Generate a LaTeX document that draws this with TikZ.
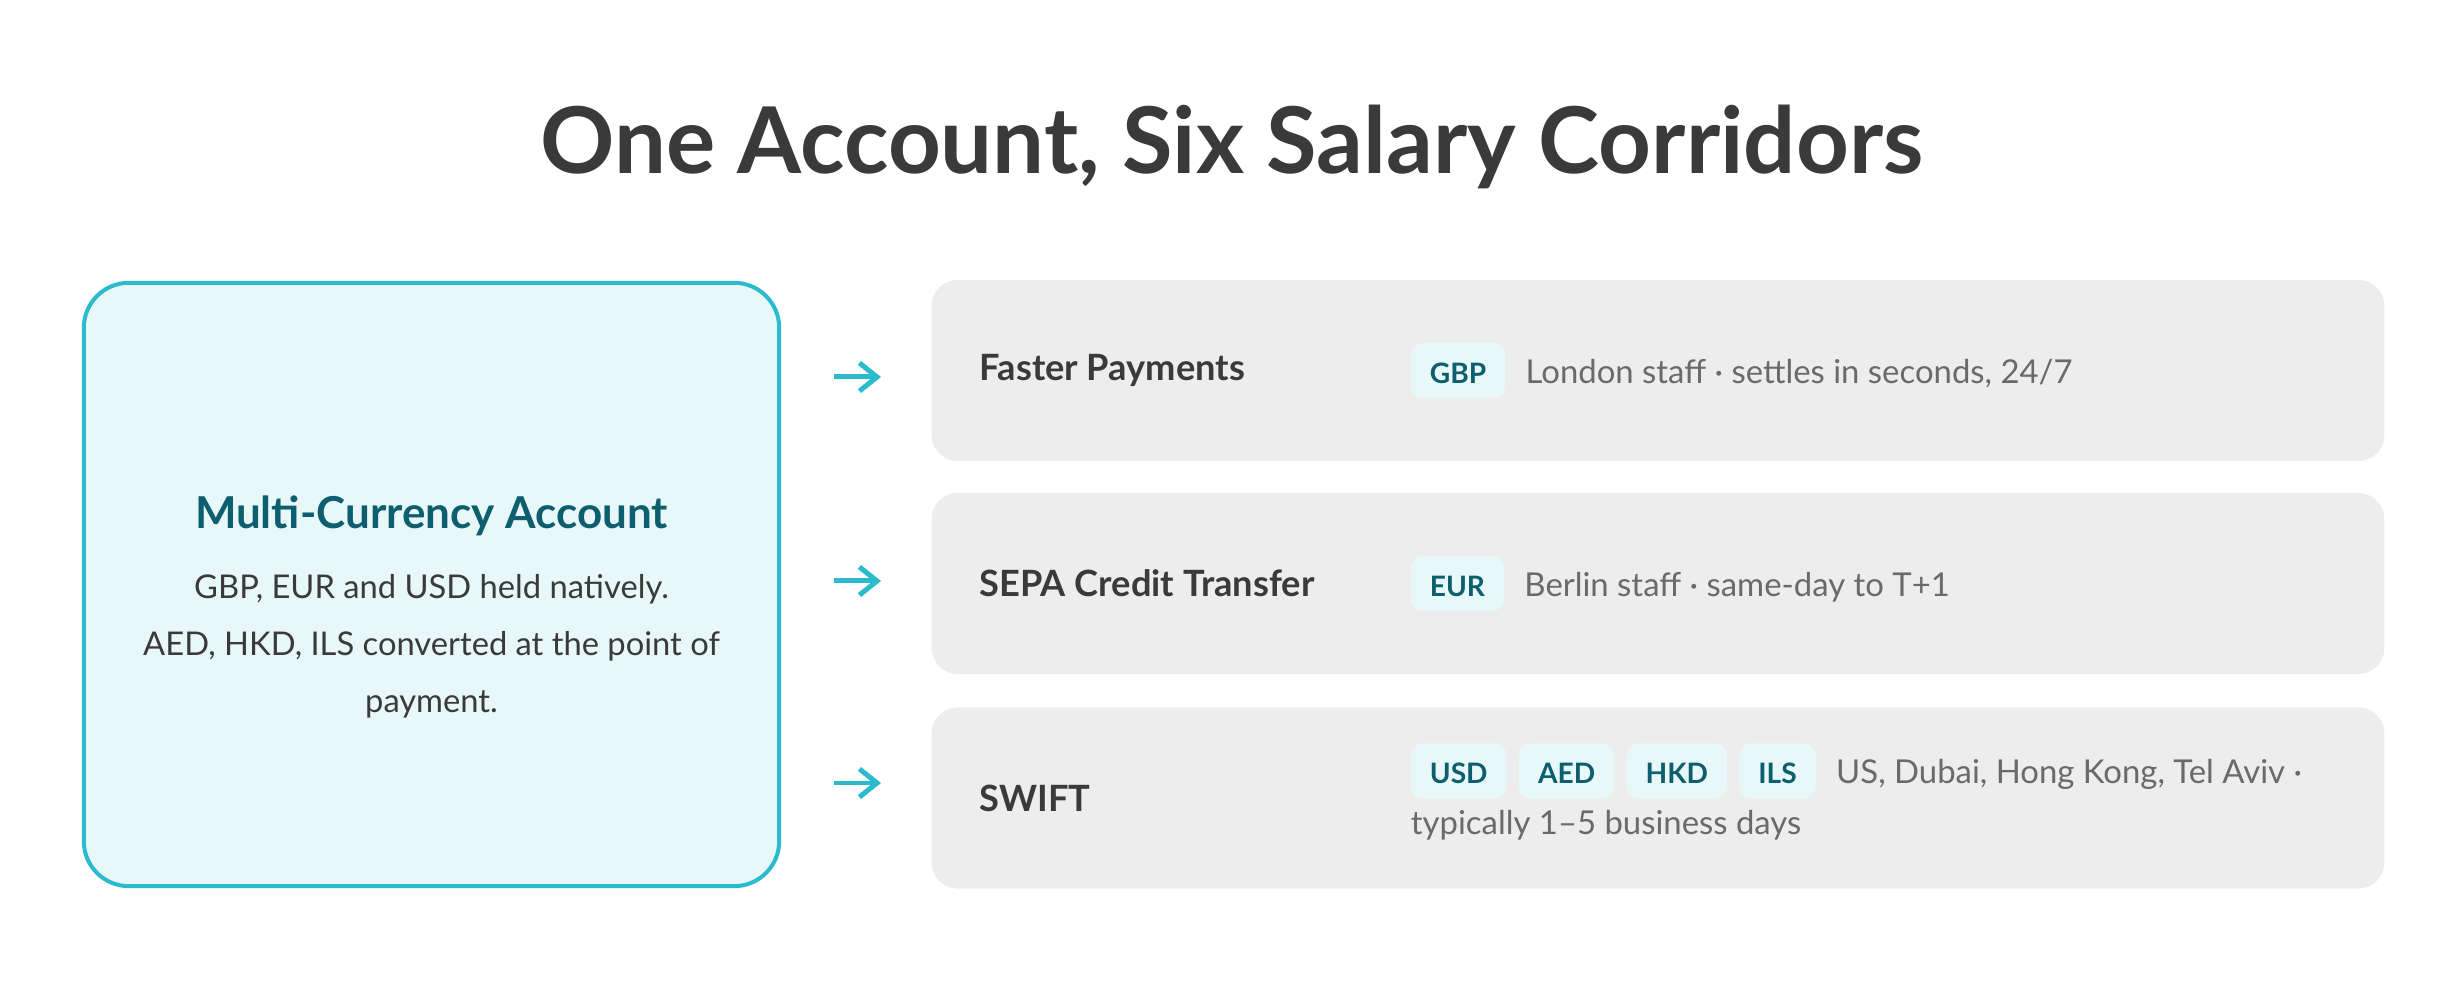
\documentclass[tikz,border=0pt]{standalone}
\usepackage{fontspec}
\setmainfont{Lato}
\usetikzlibrary{positioning, arrows.meta}
\definecolor{accentTeal}{RGB}{43,187,204}
\definecolor{deepTeal}{RGB}{13,94,110}
\definecolor{paleTeal}{RGB}{232,248,249}
\definecolor{rowGrey}{RGB}{237,237,237}
\definecolor{inkDark}{RGB}{58,58,58}
\definecolor{inkGrey}{RGB}{106,106,106}
\tikzstyle{canvas} = [x = 0.01cm, y = -0.01cm]
\tikzstyle{titleText} = [font=\bfseries\fontsize{26.2pt}{31pt}\selectfont, text=inkDark, anchor=base, inner sep=0]
\tikzstyle{accountBox} = [draw=accentTeal, fill=paleTeal, line width=1.14pt, rounded corners=0.45cm, minimum width=6.95cm, minimum height=6.03cm]
\tikzstyle{accountHead} = [font=\bfseries\fontsize{12.5pt}{15pt}\selectfont, text=deepTeal, anchor=base, inner sep=0]
\tikzstyle{accountBody} = [font=\fontsize{9.3pt}{16.2pt}\selectfont, text=inkDark, align=center, anchor=north, inner sep=0]
\tikzstyle{corridorBox} = [fill=rowGrey, rounded corners=0.26cm, minimum width=14.52cm, minimum height=1.81cm]
\tikzstyle{corridorName} = [font=\bfseries\fontsize{10.3pt}{12pt}\selectfont, text=inkDark, inner sep=0]
\tikzstyle{currencyBadge} = [fill=paleTeal, rounded corners=0.12cm, font=\bfseries\fontsize{8pt}{10pt}\selectfont, text=deepTeal, minimum height=0.55cm, inner xsep=0.19cm, inner ysep=0, text height=0.72em, text depth=0pt]
\tikzstyle{corridorNote} = [font=\fontsize{9.35pt}{12pt}\selectfont, text=inkGrey, inner sep=0]
\tikzstyle{flowArrow} = [draw=accentTeal, line width=1.42pt, -{Straight Barb[length=5pt, width=8pt]}]
\newcommand{\corridor}[3]{
  \node [corridorBox] (#1) at (1658, #2) {};
  \node [corridorName, right=0.48cm of #1.west] (#1Name) {#3};
}
\newcommand{\pointer}[2]{
  \coordinate (#1Start) at (834, #2);
  \coordinate (#1End) at (881, #2);
  \draw [flowArrow] (#1Start) -- (#1End);
}

\begin{document}
\begin{tikzpicture}[canvas]
  \useasboundingbox (0,0) rectangle (2464,995);
  \node [titleText] (title) at (1232, 174) {One Account, Six Salary Corridors};

  \node [accountBox] (account) at (431.5, 584.5) {};
  \node [accountHead] (accountTitle) at (431.5, 529) {Multi-Currency Account};
  \node [accountBody] (accountText) at (431.5, 574) {GBP, EUR and USD held natively.\\AED, HKD, ILS converted at the point of\\payment.};

  \pointer{fast}{377}
  \pointer{sepa}{581}
  \pointer{swift}{783}

  \corridor{fastRow}{370.5}{Faster Payments}
  \corridor{sepaRow}{583.5}{SEPA Credit Transfer}
  \corridor{swiftRow}{798}{SWIFT}

  \node [currencyBadge, right=4.79cm of fastRow.west] (gbp) {GBP};
  \node [corridorNote, right=0.19cm of gbp.base east, anchor=base west] (gbpNote) {London staff · settles in seconds, 24/7};

  \node [currencyBadge, right=4.79cm of sepaRow.west] (eur) {EUR};
  \node [corridorNote, right=0.19cm of eur.base east, anchor=base west] (eurNote) {Berlin staff · same-day to T+1};

  \node [currencyBadge, anchor=west] (usd) at ([xshift=4.79cm, yshift=0.27cm]swiftRow.west) {USD};
  \node [currencyBadge, right=0.11cm of usd] (aed) {AED};
  \node [currencyBadge, right=0.11cm of aed] (hkd) {HKD};
  \node [currencyBadge, right=0.11cm of hkd] (ils) {ILS};
  \node [corridorNote, right=0.19cm of ils.base east, anchor=base west] (swiftNote) {US, Dubai, Hong Kong, Tel Aviv ·};
  \node [corridorNote, anchor=base west] (swiftNoteMore) at (usd.west |- 0,835) {typically 1–5 business days};
\end{tikzpicture}
\end{document}
